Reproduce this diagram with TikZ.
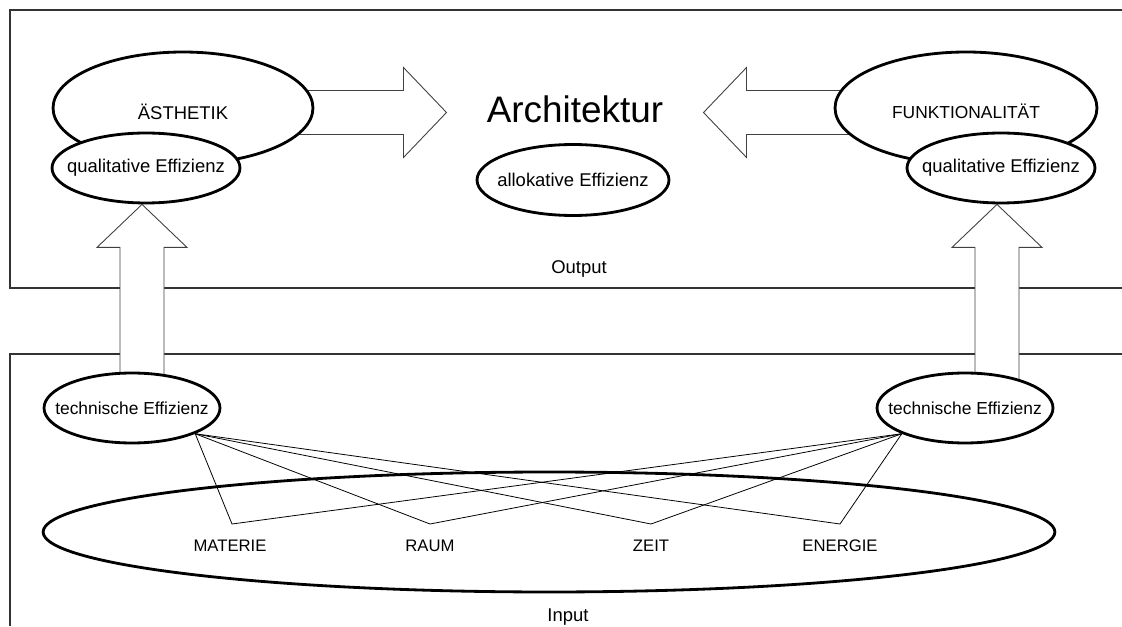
\documentclass[tikz,border=0pt]{standalone}
\usepackage{fontspec}
\setmainfont{Liberation Sans}
\usetikzlibrary{shapes.geometric,calc,backgrounds}

\newcommand{\ovaltext}[1]{\makebox[0pt]{#1}}

\tikzset{
  oval/.style={ellipse,draw,line width=1.6pt,fill=white,inner sep=0pt,font=\fontsize{10.5}{12}\selectfont},
  smalloval/.style={oval,font=\fontsize{9.9}{12}\selectfont},
  blockarrow/.style={draw=black!75,line width=0.5pt,fill=white,line join=miter},
  frame/.style={draw=black!80,line width=0.8pt},
  thinline/.style={line width=0.45pt},
  caps/.style={font=\fontsize{9.5}{11}\selectfont,inner sep=0pt},
  plain/.style={font=\fontsize{10.5}{12}\selectfont,inner sep=0pt}
}

\begin{document}
\begin{tikzpicture}[x=0.02cm,y=0.02cm]
\def\sw{22}
\def\hw{45}
\def\hl{43}
\useasboundingbox (0,0) rectangle (1122,626);

% output level
\node[oval,minimum width=5.2cm,minimum height=2.24cm] (aes) at (183,518) {\raisebox{-0.63em}[0pt][0pt]{\ovaltext{ÄSTHETIK}}};
\node[smalloval,minimum width=5.24cm,minimum height=2.24cm] (funk) at (966,518) {\raisebox{-0.63em}[0pt][0pt]{\ovaltext{FUNKTIONALITÄT}}};
\node[oval,minimum width=3.76cm,minimum height=1.4cm] (qualL) at (146,458) {\ovaltext{qualitative Effizienz}};
\node[oval,minimum width=3.76cm,minimum height=1.4cm] (qualR) at (1001,458) {\ovaltext{qualitative Effizienz}};
\node[font=\fontsize{21}{25}\selectfont,inner sep=0pt] (arch) at (575,517) {Architektur};
\node[oval,minimum width=3.84cm,minimum height=1.42cm] (allo) at (573,446) {\ovaltext{allokative Effizienz}};
\node[plain] (out) at (579,357) {Output};

% input level
\node[oval,fill=none,minimum width=20.24cm,minimum height=2.4cm] (input) at (549,94) {};
\node[smalloval,minimum width=3.52cm,minimum height=1.4cm] (tecL) at (132,218) {\ovaltext{technische Effizienz}};
\node[smalloval,minimum width=3.52cm,minimum height=1.4cm] (tecR) at (965,218) {\ovaltext{technische Effizienz}};
\node[caps] (mat) at (230,80) {MATERIE};
\node[caps] (raum) at (430,80) {RAUM};
\node[caps] (zeit) at (651,80) {ZEIT};
\node[caps] (ener) at (840,80) {ENERGIE};
\node[plain] (in) at (568,9) {Input};

\coordinate (pM) at (232,102);
\coordinate (pR) at (430,102);
\coordinate (pZ) at (651,102);
\coordinate (pE) at (840,102);
\foreach \p in {pM,pR,pZ,pE}
  \draw[thinline] (tecL.south east) -- (\p) -- (tecR.south west);

\begin{scope}[on background layer]
\draw[frame] (1122,616) -- (10,616) -- (10,338) -- (1122,338);
\draw[frame] (1122,272) -- (10,272) -- (10,0);
% up arrows
\draw[blockarrow] ($(qualL.south)+(-4,0)$) -- ++(\hw,-\hl) -- ++({\sw-\hw},0) -- ++(0,-160)
  -- ++({-2*\sw},0) -- ++(0,160) -- ++({\sw-\hw},0) -- cycle;
\draw[blockarrow] ($(qualR.south)+(-4,0)$) -- ++(\hw,-\hl) -- ++({\sw-\hw},0) -- ++(0,-160)
  -- ++({-2*\sw},0) -- ++(0,160) -- ++({\sw-\hw},0) -- cycle;
% arrows to Architektur
\draw[blockarrow] ($(arch.west)+(-40,-3.5)$) -- ++(-\hl,\hw) -- ++(0,{\sw-\hw}) -- ++(-120,0)
  -- ++(0,{-2*\sw}) -- ++(120,0) -- ++(0,{\sw-\hw}) -- cycle;
\draw[blockarrow] ($(arch.east)+(40,-3.5)$) -- ++(\hl,\hw) -- ++(0,{\sw-\hw}) -- ++(120,0)
  -- ++(0,{-2*\sw}) -- ++(-120,0) -- ++(0,{\sw-\hw}) -- cycle;
\end{scope}
\end{tikzpicture}
\end{document}
